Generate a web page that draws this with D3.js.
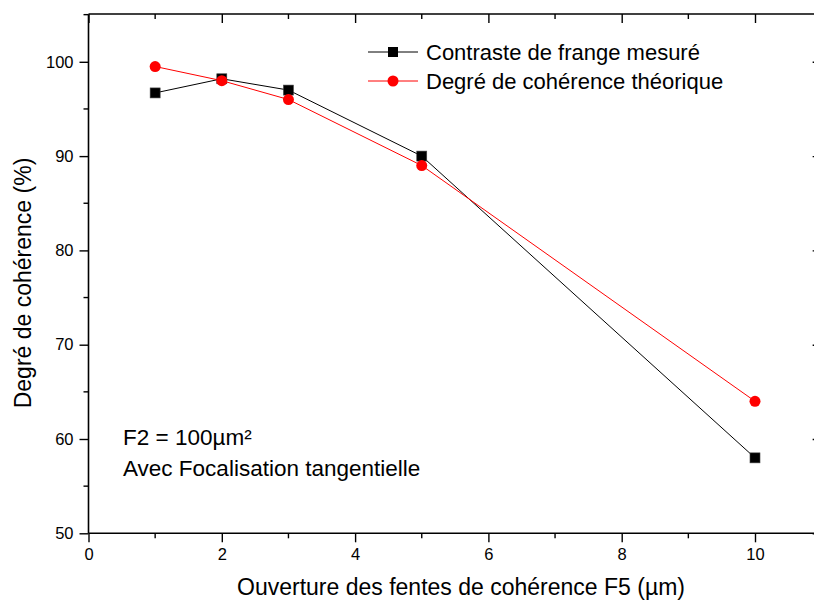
<!DOCTYPE html>
<html>
<head>
<meta charset="utf-8">
<script src="https://cdn.jsdelivr.net/npm/d3@7"></script>
<style>
  html, body { margin: 0; padding: 0; background: #fff; }
  svg { display: block; font-family: "Liberation Sans", Arial, sans-serif; }
</style>
</head>
<body>
<svg id="chart" width="814" height="601"></svg>
<script>
// Slit aperture F5 (µm)
const apertures = [1, 2, 3, 5, 10];
// Measured fringe contrast (%)
const measured = [96.7, 98.2, 97.0, 90.0, 58.0];
// Theoretical degree of coherence (%)
const theoretical = [99.5, 98.0, 96.0, 89.0, 64.0];
const xTicks = [0, 2, 4, 6, 8, 10];
const yTicks = [50, 60, 70, 80, 90, 100];
const seriesNames = ["Contraste de frange mesuré", "Degré de cohérence théorique"];

(function () {
const svg = d3.select("#chart");
const plotLeft = 88.5, plotTop = 14, plotBottom = 533.3;
const x = d3.scaleLinear().domain([0, 11]).range([plotLeft, plotLeft + 11 * 66.65]);
const y = d3.scaleLinear().domain([50, 105]).range([plotBottom, plotBottom - 55 * 9.43]);
const plotRight = x(11);

const tickFont = "16.5px";
// bottom axis: outward ticks, minor ticks between labels
const gx = svg.append("g").attr("transform", `translate(0,${plotBottom})`)
  .call(d3.axisBottom(x).tickValues(xTicks).tickSize(9).tickPadding(6).tickFormat(d3.format("d")));
gx.append("g").selectAll("line").data([1, 3, 5, 7, 9, 11]).join("line")
  .attr("x1", d => x(d)).attr("x2", d => x(d)).attr("y1", 0).attr("y2", 5).attr("stroke", "#000");
// top axis: inward ticks
const gxt = svg.append("g").attr("transform", `translate(0,${plotTop})`)
  .call(d3.axisTop(x).tickValues(xTicks).tickSize(-9).tickFormat(""));
gxt.append("g").selectAll("line").data([1, 3, 5, 7, 9, 11]).join("line")
  .attr("x1", d => x(d)).attr("x2", d => x(d)).attr("y1", 0).attr("y2", 5).attr("stroke", "#000");
// left axis
const gy = svg.append("g").attr("transform", `translate(${plotLeft},0)`)
  .call(d3.axisLeft(y).tickValues(yTicks).tickSize(9).tickPadding(6));
gy.append("g").selectAll("line").data([55, 65, 75, 85, 95, 105]).join("line")
  .attr("y1", d => y(d)).attr("y2", d => y(d)).attr("x1", 0).attr("x2", -5).attr("stroke", "#000");
// right axis: inward ticks
const gyr = svg.append("g").attr("transform", `translate(${plotRight},0)`)
  .call(d3.axisRight(y).tickValues(yTicks).tickSize(-9).tickFormat(""));

[gx, gxt, gy, gyr].forEach(g => {
  g.select(".domain").attr("stroke", "#000").attr("stroke-width", 1.6);
  g.selectAll("line").attr("stroke-width", 1.4);
  g.selectAll("text").attr("font-size", tickFont).attr("fill", "#000")
    .attr("font-family", "Liberation Sans, Arial, sans-serif");
});
// plain frame edges without end caps
[gx, gxt].forEach(g => g.select(".domain").attr("d", `M${plotLeft},0H${plotRight}`));
[gy, gyr].forEach(g => g.select(".domain").attr("d", `M0,${y(105)}V${plotBottom}`));

// series lines
const line = vals => d3.line().x((d, i) => x(apertures[i])).y(d => y(d))(vals);
svg.append("path").attr("d", line(measured)).attr("fill", "none").attr("stroke", "#000").attr("stroke-width", 1);
svg.append("path").attr("d", line(theoretical)).attr("fill", "none").attr("stroke", "#ff0000").attr("stroke-width", 1);

// markers
svg.append("g").selectAll("rect").data(measured).join("rect")
  .attr("x", (d, i) => x(apertures[i]) - 5).attr("y", d => y(d) - 5)
  .attr("width", 10).attr("height", 10).attr("fill", "#000").attr("stroke", "#444").attr("stroke-width", 0.6);
svg.append("g").selectAll("circle").data(theoretical).join("circle")
  .attr("cx", (d, i) => x(apertures[i])).attr("cy", d => y(d)).attr("r", 5.5).attr("fill", "#ff0000");

// legend
const legend = svg.append("g");
const rows = [52, 81];
legend.append("line").attr("x1", 368).attr("x2", 418).attr("y1", rows[0]).attr("y2", rows[0]).attr("stroke", "#000");
legend.append("rect").attr("x", 388).attr("y", rows[0] - 5).attr("width", 10).attr("height", 10).attr("fill", "#000");
legend.append("line").attr("x1", 368).attr("x2", 418).attr("y1", rows[1]).attr("y2", rows[1]).attr("stroke", "#ff0000");
legend.append("circle").attr("cx", 393).attr("cy", rows[1]).attr("r", 5.5).attr("fill", "#ff0000");
legend.selectAll("text").data(seriesNames).join("text")
  .attr("x", 426).attr("y", (d, i) => rows[i] + 8).attr("font-size", "22px").text(d => d);

// annotations
svg.append("text").attr("x", 123).attr("y", 445).attr("font-size", "22.5px").text("F2 = 100µm²");
svg.append("text").attr("x", 123).attr("y", 476).attr("font-size", "22.5px").text("Avec Focalisation tangentielle");

// axis titles
svg.append("text").attr("x", 461).attr("y", 595).attr("text-anchor", "middle").attr("font-size", "23px")
  .text("Ouverture des fentes de cohérence F5 (µm)");
svg.append("text").attr("transform", `translate(31,283) rotate(-90)`).attr("text-anchor", "middle")
  .attr("font-size", "23px").text("Degré de cohérence (%)");
})();
</script>
</body>
</html>
